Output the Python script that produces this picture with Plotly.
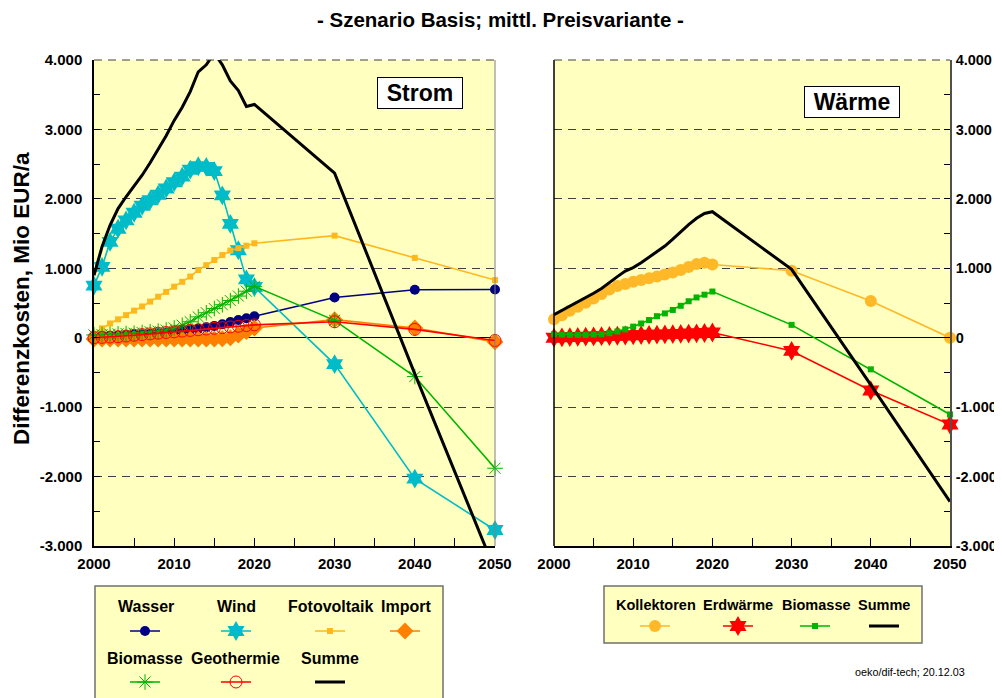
import plotly.graph_objects as go

# Jahre: 2000-2020 jaehrlich, danach 2030/2040/2050
years = [2000, 2001, 2002, 2003, 2004, 2005, 2006, 2007, 2008, 2009, 2010,
         2011, 2012, 2013, 2014, 2015, 2016, 2017, 2018, 2019, 2020,
         2030, 2040, 2050]

# Strom, Differenzkosten in Mio EUR/a
strom_wasser = [15, 20, 25, 30, 35, 45, 50, 55, 65, 75, 90,
                100, 115, 130, 150, 170, 195, 225, 255, 280, 310,
                580, 690, 695]
strom_wind = [750, 1020, 1380, 1570, 1690, 1800, 1900, 1980, 2060, 2150, 2240,
              2320, 2420, 2470, 2460, 2400, 2050, 1640, 1260, 840, 730,
              -380, -2030, -2770]
strom_foto = [60, 135, 205, 265, 325, 390, 450, 520, 590, 660, 735,
              805, 880, 975, 1045, 1120, 1190, 1255, 1290, 1325, 1360,
              1470, 1150, 830]
strom_import = [-20, -20, -20, -20, -20, -20, -20, -20, -20, -20, -20,
                -20, -20, -20, -20, -20, -15, 0, 40, 90, 140,
                260, 140, -60]
strom_biomasse = [40, 45, 50, 55, 60, 65, 75, 85, 95, 110, 140,
                  180, 230, 300, 360, 420, 475, 535, 600, 670, 740,
                  250, -560, -1880]
strom_geothermie = [0, 5, 10, 15, 25, 35, 45, 55, 65, 75, 85,
                    95, 105, 115, 125, 135, 145, 155, 165, 175, 185,
                    230, 120, -40]
strom_summe = [900, 1310, 1620, 1860, 2030, 2190, 2340, 2520, 2710, 2910, 3130,
               3320, 3545, 3830, 3930, 4100, 3930, 3700, 3560, 3330, 3360,
               2370, -520, -3350]

# Waerme, Differenzkosten in Mio EUR/a
waerme_kollektoren = [265, 325, 390, 445, 505, 565, 630, 695, 745, 775, 805,
                      830, 855, 880, 910, 940, 975, 1020, 1060, 1080, 1055,
                      965, 530, 0]
waerme_erdwaerme = [0, 5, 8, 12, 15, 18, 22, 25, 28, 32, 35,
                    38, 42, 45, 48, 52, 55, 60, 63, 68, 75,
                    -190, -760, -1250]
waerme_biomasse = [50, 45, 40, 40, 40, 45, 50, 65, 90, 120, 160,
                   205, 255, 310, 350, 400, 460, 525, 580, 620, 665,
                   185, -455, -1105]
waerme_summe = [330, 390, 450, 510, 570, 640, 710, 800, 880, 960, 1010,
                1080, 1160, 1230, 1320, 1420, 1530, 1630, 1720, 1790, 1815,
                985, -680, -2360]

y_tickvals = [-3000, -2000, -1000, 0, 1000, 2000, 3000, 4000]
y_ticktext = ['-3.000', '-2.000', '-1.000', '0', '1.000', '2.000', '3.000', '4.000']
x_tickvals = [2000, 2010, 2020, 2030, 2040, 2050]

W, H = 1002, 698
OFF = 8  # Seitenrand des Browsers
FONT = 'Liberation Sans, Arial, sans-serif'
BG = '#FFFFC0'


def px_x(v):
    return (v - OFF) / W


def px_y(v):
    return 1 - (v - OFF) / H


# (name, values, axis, color, marker, legend id, symbol centre in px)
series = [
    ('Wasser', strom_wasser, 'x', '#000080', dict(symbol='circle', size=10), 'legend', (145, 631)),
    ('Wind', strom_wind, 'x', '#00BCC8', dict(symbol='hexagram', size=15), 'legend2', (236, 631)),
    ('Fotovoltaik', strom_foto, 'x', '#FFB81C', dict(symbol='square', size=6), 'legend3', (330, 631)),
    ('Import', strom_import, 'x', '#FF8000', dict(symbol='diamond', size=13), 'legend4', (405, 631)),
    ('Biomasse', strom_biomasse, 'x', '#00B400',
     dict(symbol='asterisk-open', size=13, line=dict(color='#00C000', width=1)), 'legend5', (145, 682)),
    ('Geothermie', strom_geothermie, 'x', '#FF0000',
     dict(symbol='circle-open', size=12, line=dict(color='#FF0000', width=1)), 'legend6', (236, 682)),
    ('Summe', strom_summe, 'x', '#000000', None, 'legend7', (330, 682)),
    ('Kollektoren', waerme_kollektoren, 'x2', '#FFB828', dict(symbol='circle', size=12), 'legend8', (655, 626)),
    ('Erdwärme', waerme_erdwaerme, 'x2', '#FF0000', dict(symbol='hexagram', size=15), 'legend9', (738, 626)),
    ('Biomasse', waerme_biomasse, 'x2', '#00B400', dict(symbol='square', size=6), 'legend10', (815, 626)),
    ('Summe', waerme_summe, 'x2', '#000000', None, 'legend11', (884, 626)),
]

fig = go.Figure()
layout_legends = {}
for name, vals, xa, color, marker, leg, (cx, cy) in series:
    ya = 'y' if xa == 'x' else 'y2'
    if marker is None:
        tr = go.Scatter(x=years, y=vals, mode='lines', line=dict(color=color, width=3))
    else:
        m = dict(marker)
        m.setdefault('color', color)
        tr = go.Scatter(x=years, y=vals, mode='lines+markers',
                        line=dict(color=color, width=1.6), marker=m, cliponaxis=False)
    tr.update(xaxis=xa, yaxis=ya, name=' ', legend=leg,
              hovertemplate=name + ': %{y}<extra></extra>')
    fig.add_trace(tr)
    layout_legends[leg] = dict(
        x=px_x(cx - 20), xanchor='left', y=px_y(cy), yanchor='middle',
        bgcolor='rgba(0,0,0,0)', borderwidth=0, font=dict(size=10, family=FONT),
        itemwidth=30, tracegroupgap=0)

axis_font = dict(family=FONT, size=15, color='black', weight='bold')
yaxis_common = dict(
    range=[-3000, 4000], tickmode='array', tickvals=y_tickvals, ticktext=y_ticktext,
    tickfont=axis_font, ticks='inside', ticklen=6, tickcolor='black', ticklabelstandoff=7,
    showgrid=True, gridcolor='#404040', gridwidth=1, griddash='8px,6px',
    zeroline=True, zerolinecolor='black', zerolinewidth=1.2,
    minor=dict(tickmode='linear', tick0=-2500, dtick=1000, ticks='inside',
               ticklen=6, tickcolor='black', showgrid=False),
    showline=True, linewidth=1.5, fixedrange=True, automargin=False)
xaxis_common = dict(
    range=[2000, 2050], tickmode='array', tickvals=x_tickvals, tickfont=axis_font,
    ticks='inside', ticklen=8, tickcolor='black', ticklabelstandoff=3,
    showgrid=False, zeroline=False,
    minor=dict(tickmode='linear', tick0=2000, dtick=5, ticks='inside', ticklen=8,
               tickcolor='black', showgrid=False),
    showline=True, linecolor='black', linewidth=1.5, fixedrange=True, automargin=False)

fig.update_layout(
    width=W, height=H,
    margin=dict(l=0, r=0, t=0, b=0),
    paper_bgcolor='white', plot_bgcolor=BG,
    font=dict(family=FONT, color='black'),
    showlegend=True,
    xaxis=dict(xaxis_common, domain=[px_x(94), px_x(495)], anchor='y'),
    yaxis=dict(yaxis_common, domain=[px_y(546), px_y(60)], anchor='x', linecolor='black'),
    xaxis2=dict(xaxis_common, domain=[px_x(554), px_x(950)], anchor='y2'),
    yaxis2=dict(yaxis_common, domain=[px_y(546), px_y(60)], anchor='x2', side='right',
                linecolor='#505050', ticklabelstandoff=1,
                tickfont=dict(axis_font, size=14.5)),
    **layout_legends,
)

# Rahmenlinien der Diagrammflaechen
fig.add_shape(type='line', xref='x domain', yref='y domain', x0=1, x1=1, y0=0, y1=1,
              line=dict(color='#808080', width=1))
fig.add_shape(type='line', xref='x2 domain', yref='y2 domain', x0=0, x1=0, y0=0, y1=1,
              line=dict(color='black', width=1.5))
for xd, yd in (('x domain', 'y domain'), ('x2 domain', 'y2 domain')):
    fig.add_shape(type='line', xref=xd, yref=yd, x0=0, x1=1, y0=1, y1=1,
                  line=dict(color='#404040', width=1, dash='8px,6px'))

# Legendenkaesten
fig.add_shape(type='rect', xref='paper', yref='paper', layer='below',
              x0=px_x(95), x1=px_x(443), y0=px_y(586), y1=-0.02,
              fillcolor=BG, line=dict(color='#707070', width=1.5))
fig.add_shape(type='rect', xref='paper', yref='paper', layer='below',
              x0=px_x(604), x1=px_x(922), y0=px_y(586), y1=px_y(643),
              fillcolor=BG, line=dict(color='#707070', width=1.5))

# Legendenbeschriftungen (ueber den Symbolen)
legend_labels = [
    ('Wasser', 146, 606, 16), ('Wind', 236, 606, 16), ('Fotovoltaik', 330, 606, 16),
    ('Import', 406, 606, 16), ('Biomasse', 145, 658, 16), ('Geothermie', 235, 658, 16),
    ('Summe', 330, 658, 16),
    ('Kollektoren', 656, 605, 14.5), ('Erdwärme', 738, 605, 14.5),
    ('Biomasse', 816, 605, 14.5), ('Summe', 884, 605, 14.5),
]
for text, lx, ly, fs in legend_labels:
    fig.add_annotation(x=px_x(lx), y=px_y(ly), xref='paper', yref='paper', text=text,
                       showarrow=False, xanchor='center', yanchor='middle',
                       font=dict(family=FONT, size=fs, color='black', weight='bold'))

fig.add_annotation(x=px_x(500), y=px_y(20), xref='paper', yref='paper',
                   text='- Szenario Basis; mittl. Preisvariante -', showarrow=False,
                   xanchor='center', yanchor='middle',
                   font=dict(family=FONT, size=20.5, color='black', weight='bold'))
fig.add_annotation(x=px_x(22), y=px_y(299), xref='paper', yref='paper',
                   text='Differenzkosten, Mio EUR/a', textangle=-90, showarrow=False,
                   xanchor='center', yanchor='middle',
                   font=dict(family=FONT, size=22.5, color='black', weight='bold'))
fig.add_annotation(x=px_x(420), y=px_y(93), xref='paper', yref='paper', text='Strom',
                   showarrow=False, bgcolor='white', bordercolor='black', borderwidth=1,
                   width=82, height=28, borderpad=1, xanchor='center', yanchor='middle',
                   font=dict(family=FONT, size=23, color='black', weight='bold'))
fig.add_annotation(x=px_x(852), y=px_y(102), xref='paper', yref='paper', text='Wärme',
                   showarrow=False, bgcolor='white', bordercolor='black', borderwidth=1,
                   width=92, height=28, borderpad=1, xanchor='center', yanchor='middle',
                   font=dict(family=FONT, size=23, color='black', weight='bold'))
fig.add_annotation(x=px_x(967), y=px_y(672), xref='paper', yref='paper',
                   text='oeko/dif-tech; 20.12.03', showarrow=False,
                   xanchor='right', yanchor='middle',
                   font=dict(family=FONT, size=10.8, color='black'))

fig.write_html("out.html")
